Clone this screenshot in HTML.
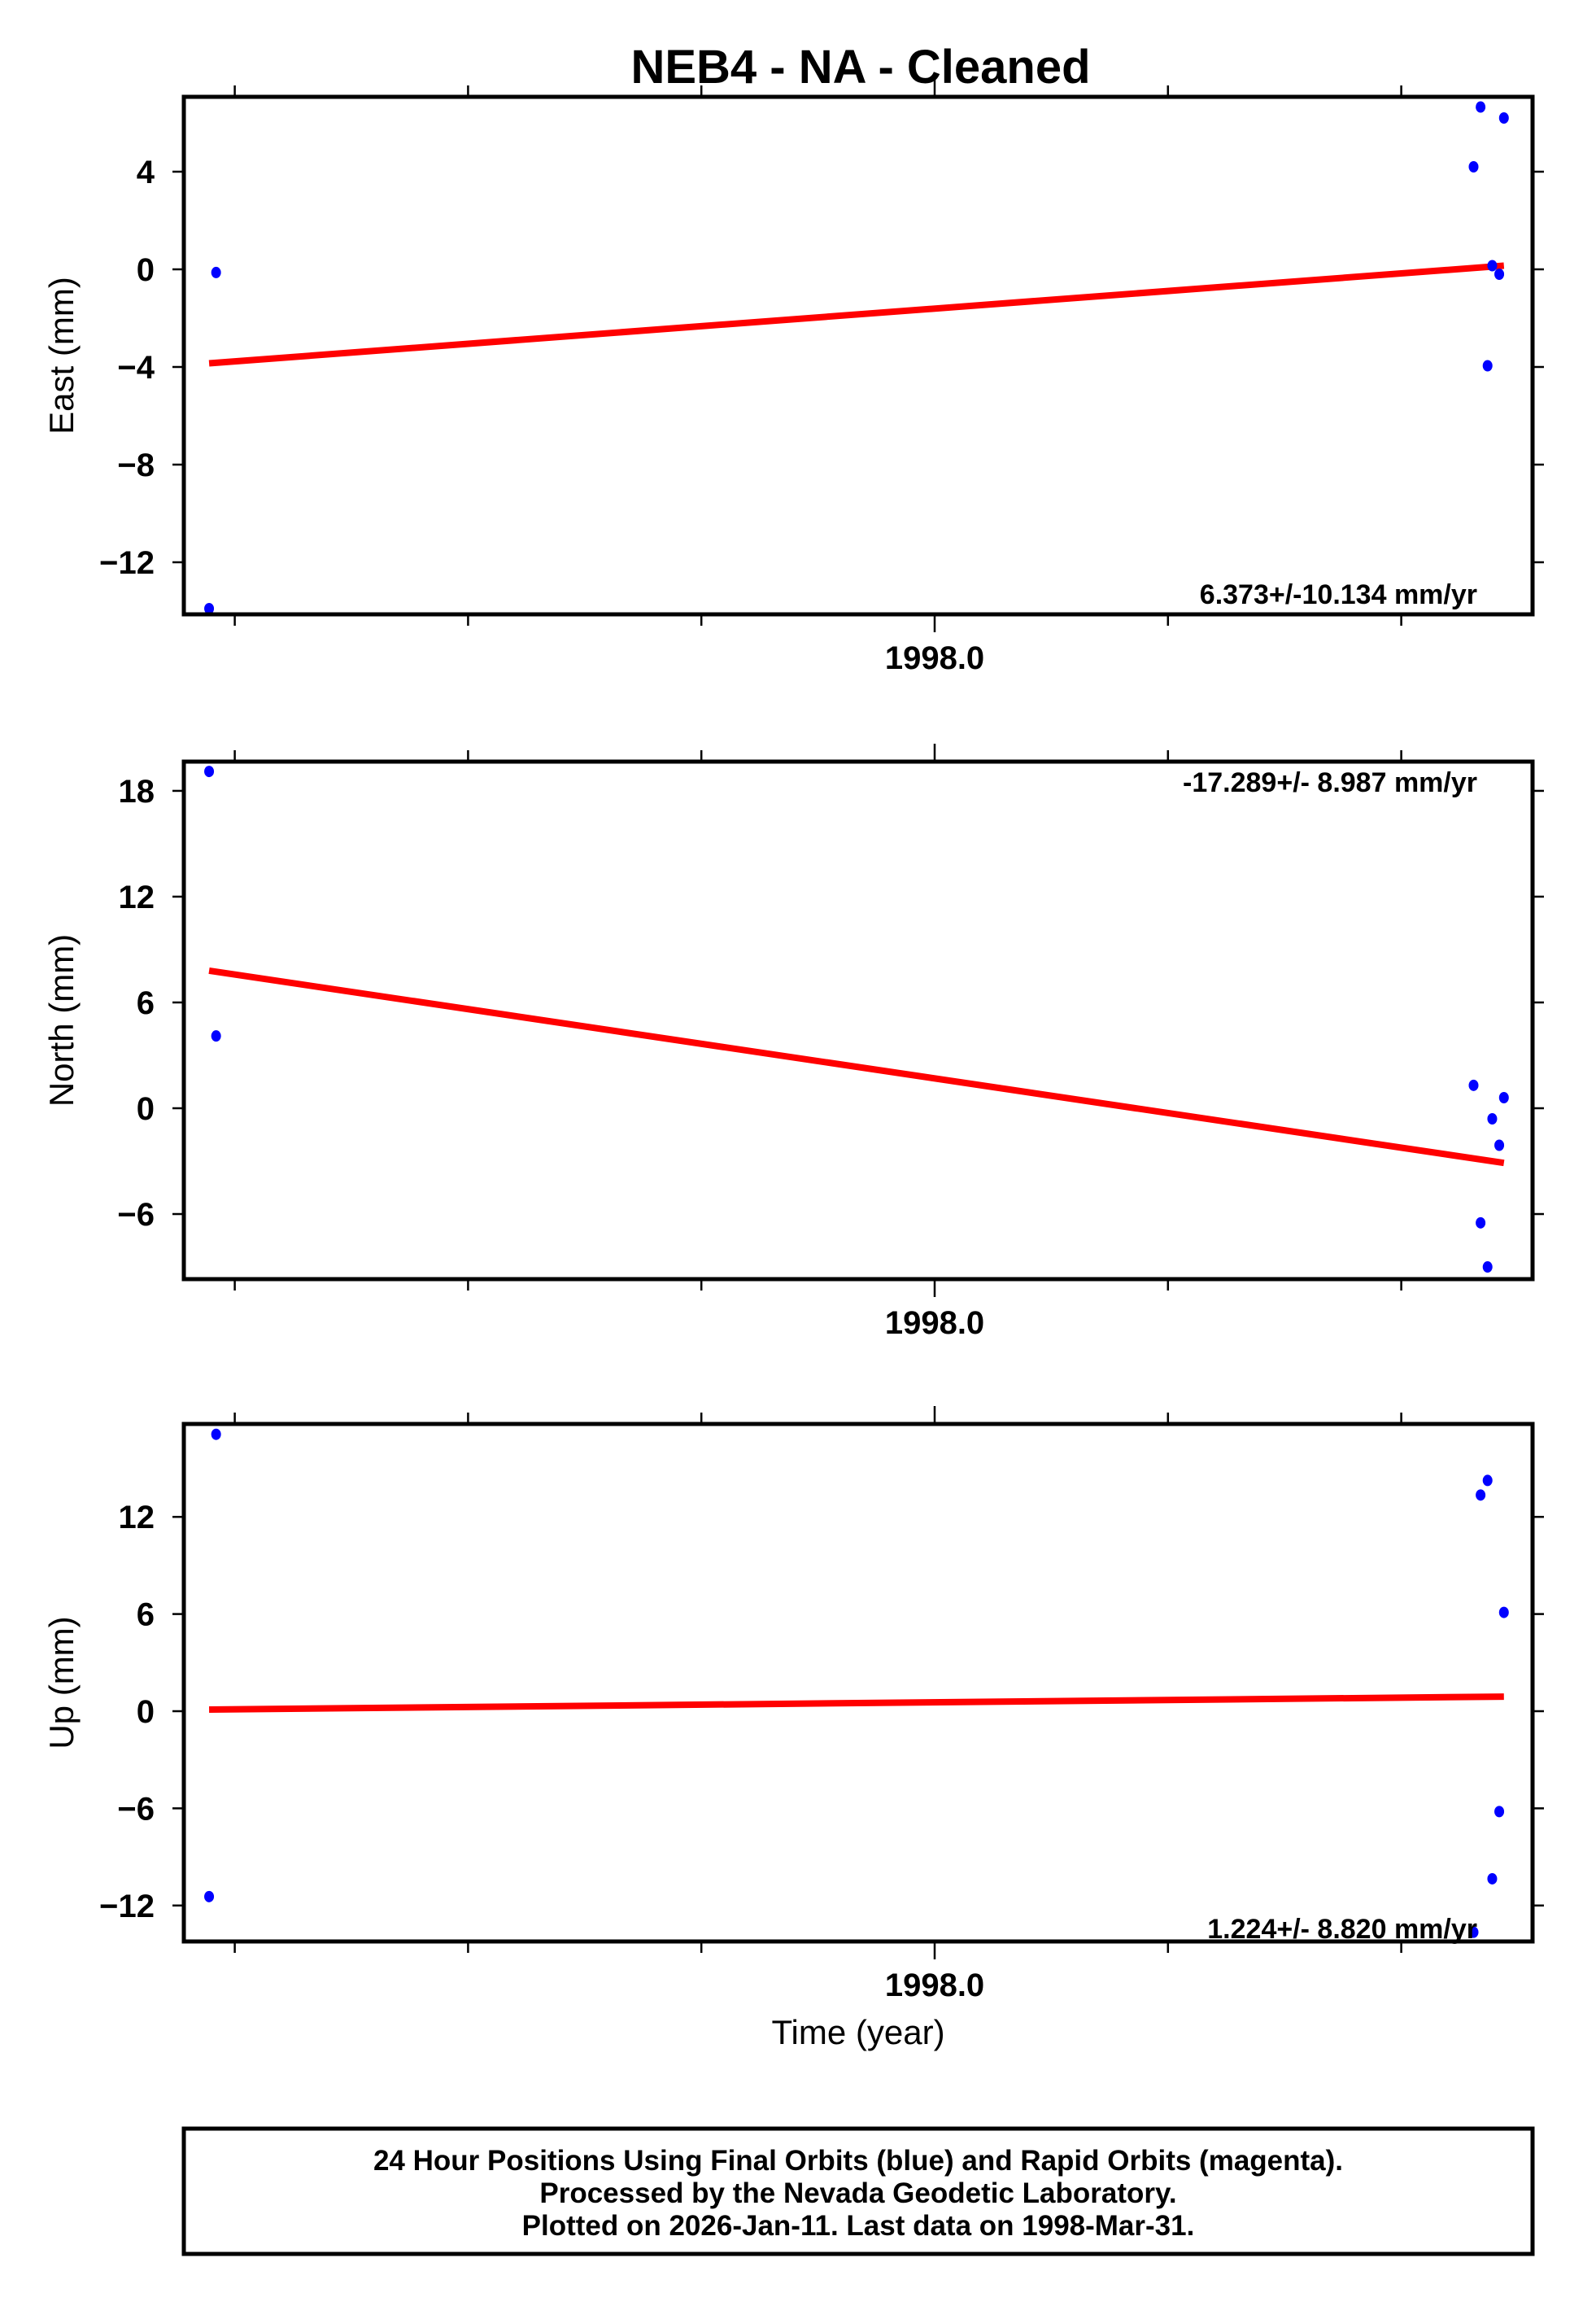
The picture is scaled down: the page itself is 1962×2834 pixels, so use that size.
<!DOCTYPE html>
<html><head><meta charset="utf-8"><style>
html,body{margin:0;padding:0;background:#fff}
svg{display:block}
text{font-family:"Liberation Sans",sans-serif}
</style></head><body>
<svg id="chart" width="1962" height="2834" xmlns="http://www.w3.org/2000/svg">
<text x="1058" y="102" font-size="58" font-weight="bold" text-anchor="middle">NEB4  - NA - Cleaned</text>
<g id="panels"></g>
<text x="1055" y="2512" font-size="42" text-anchor="middle">Time (year)</text>
<rect x="226" y="2616" width="1658" height="154" fill="none" stroke="#000" stroke-width="5"/>
<text x="1055" y="2667" font-size="35" font-weight="bold" text-anchor="middle">24 Hour Positions Using Final Orbits (blue) and Rapid Orbits (magenta).</text>
<text x="1055" y="2707" font-size="35" font-weight="bold" text-anchor="middle">Processed by the Nevada Geodetic Laboratory.</text>
<text x="1055" y="2747" font-size="35" font-weight="bold" text-anchor="middle">Plotted on 2026-Jan-11. Last data on 1998-Mar-31.</text>
</svg>
<script>
const times = [1997.689, 1997.692, 1998.231, 1998.234, 1998.237, 1998.239, 1998.242, 1998.244];
const eastVals = [-13.9, -0.13, 4.2, 6.65, -3.95, 0.15, -0.2, 6.2];
const northVals = [19.1, 4.1, 1.3, -6.5, -9.0, -0.6, -2.1, 0.6];
const upVals = [-11.45, 17.1, -13.65, 13.35, 14.25, -10.35, -6.2, 6.1];
const eastTrend = [-3.85, 0.15];
const northTrend = [7.8, -3.1];
const upTrend = [0.1, 0.9];
const eastTicks = [4, 0, -4, -8, -12];
const northTicks = [18, 12, 6, 0, -6];
const upTicks = [12, 6, 0, -6, -12];
const xMinorTicks = [1997.7, 1997.8, 1997.9, 1998.1, 1998.2];
const xMajorTicks = [1998.0];
const rates = ["6.373+/-10.134 mm/yr", "-17.289+/- 8.987 mm/yr", "1.224+/- 8.820 mm/yr"];

const NS = "http://www.w3.org/2000/svg";
const X0 = 226, X1 = 1884;
const xs = t => 1149 + (t - 1998.0) * 2868;
const root = document.getElementById('panels');
function mk(tag, attrs, parent) {
  const e = document.createElementNS(NS, tag);
  for (const k in attrs) e.setAttribute(k, attrs[k]);
  parent.appendChild(e);
  return e;
}
const panels = [
  {name:'east', label:'East (mm)', top:119, zeroY:331, ppm:30, vals:eastVals, trend:eastTrend, ticks:eastTicks, rate:rates[0], rateY:742},
  {name:'north', label:'North (mm)', top:936, zeroY:1362, ppm:21.67, vals:northVals, trend:northTrend, ticks:northTicks, rate:rates[1], rateY:973},
  {name:'up', label:'Up (mm)', top:1750, zeroY:2103, ppm:19.9, vals:upVals, trend:upTrend, ticks:upTicks, rate:rates[2], rateY:2382}
];
panels.forEach(p => {
  const H = 636, bot = p.top + H;
  const ys = v => p.zeroY - v * p.ppm;
  const g = mk('g', {}, root);
  
  
  p.ticks.forEach(v => {
    const y = ys(v);
    const l1 = mk('line', {x1:X0-14, x2:X0, y1:y, y2:y, stroke:'#000', 'stroke-width':2.5}, g);
    
    
    const l2 = mk('line', {x1:X1, x2:X1+14, y1:y, y2:y, stroke:'#000', 'stroke-width':2.5}, g);
    
    
    const t = mk('text', {x:190, y:y+14, 'font-size':40, 'font-weight':'bold', 'text-anchor':'end'}, g);
    t.textContent = (v < 0 ? '\u2212' + Math.abs(v) : String(v));
    
    
  });
  xMinorTicks.forEach(tv => {
    const x = xs(tv);
    [[p.top-14, p.top], [bot, bot+14]].forEach(([a,b]) => {
      const l = mk('line', {x1:x, x2:x, y1:a, y2:b, stroke:'#000', 'stroke-width':2.5}, g);
      
      
    });
  });
  xMajorTicks.forEach(tv => {
    const x = xs(tv);
    [[p.top-22, p.top], [bot, bot+22]].forEach(([a,b]) => {
      const l = mk('line', {x1:x, x2:x, y1:a, y2:b, stroke:'#000', 'stroke-width':2.5}, g);
      
      
    });
    const t = mk('text', {x:x, y:bot+67, 'font-size':40, 'font-weight':'bold', 'text-anchor':'middle'}, g);
    t.textContent = tv.toFixed(1);
    
    
  });
  const cy = p.top + H/2;
  const yl = mk('text', {x:0, y:0, 'font-size':42, 'text-anchor':'middle', transform:`translate(90 ${cy}) rotate(-90)`}, g);
  yl.textContent = p.label;
  
  
  const tl = mk('line', {x1:xs(times[0]), x2:xs(times[times.length-1]), y1:ys(p.trend[0]), y2:ys(p.trend[1]), stroke:'#ff0000', 'stroke-width':8}, g);
  
  
  times.forEach((tv, i) => {
    const c = mk('ellipse', {cx:xs(tv), cy:ys(p.vals[i]), rx:6, ry:7, fill:'#0000ff'}, g);
    
    
  });
  const rt = mk('text', {x:1816, y:p.rateY, 'font-size':34, 'font-weight':'bold', 'text-anchor':'end'}, g);
  rt.textContent = p.rate;
  
  
  const fr = mk('rect', {x:X0, y:p.top, width:X1-X0, height:H, fill:'none', stroke:'#000', 'stroke-width':5}, g);
  
  
});
</script>
</body></html>
